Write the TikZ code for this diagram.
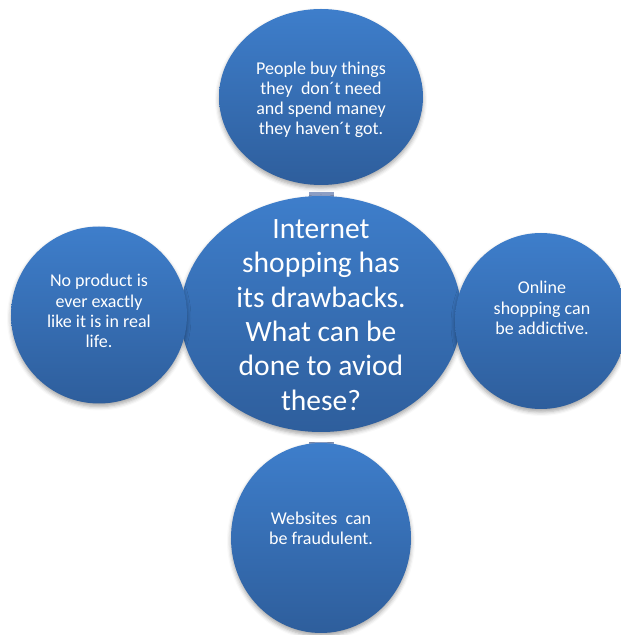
\documentclass[tikz,border=0pt]{standalone}
\usepackage{fontspec}
\setmainfont{Carlito}
\usetikzlibrary{shapes.geometric,shadows.blur}
\definecolor{bluetop}{RGB}{62,126,203}
\definecolor{bluebot}{RGB}{46,94,156}
\definecolor{connc}{RGB}{140,158,196}
\tikzset{
  bubble/.style={ellipse, inner sep=0pt, top color=bluetop, bottom color=bluebot, draw=none,
    blur shadow={shadow xshift=0pt, shadow yshift=-3pt, shadow blur radius=4pt, shadow opacity=35}},
  smalltxt/.style={text=white, align=center, inner sep=0pt, font=\fontsize{18}{20.2}\selectfont},
  bigtxt/.style={text=white, align=center, inner sep=0pt, font=\fontsize{29.5}{34.3}\selectfont},
  link/.style={draw=connc, line width=25pt}
}
\begin{document}
\begin{tikzpicture}[x=1pt,y=1pt]
\useasboundingbox (0,0) rectangle (621,635);
\clip (0,0) rectangle (621,635);
% anchor coordinates for connectors
\coordinate (tops) at (321,442.5);
\coordinate (cenn) at (321,437);
\coordinate (cens) at (321,192.5);
\coordinate (bots) at (321,187);
\draw[link] (tops) -- (cenn);
\draw[link] (cens) -- (bots);
% shapes
\node[bubble, minimum width=204pt, minimum height=176pt] (top) at (321,538) {};
\node[bubble, minimum width=180pt, minimum height=190pt] (bottom) at (321,97) {};
\node[bubble, minimum width=281pt, minimum height=236pt] (center) at (321,321) {};
\node[bubble, minimum width=176pt, minimum height=177pt] (left) at (99,320) {};
\node[bubble, minimum width=172pt, minimum height=176pt] (right) at (541,314) {};
% texts
\node[smalltxt] (toptext) at (321,535) {People buy things\\they~ don´t need\\and spend maney\\they haven´t got.};
\node[bigtxt] (centertext) at (321,320) {Internet\\shopping has\\its drawbacks.\\What can be\\done to aviod\\these?};
\node[smalltxt] (lefttext) at (99,324) {No product is\\ever exactly\\like it is in real\\life.};
\node[smalltxt] (righttext) at (542,327) {Online\\shopping can\\be addictive.};
\node[smalltxt] (bottomtext) at (321,107) {Websites~ can\\be fraudulent.};
\end{tikzpicture}
\end{document}
